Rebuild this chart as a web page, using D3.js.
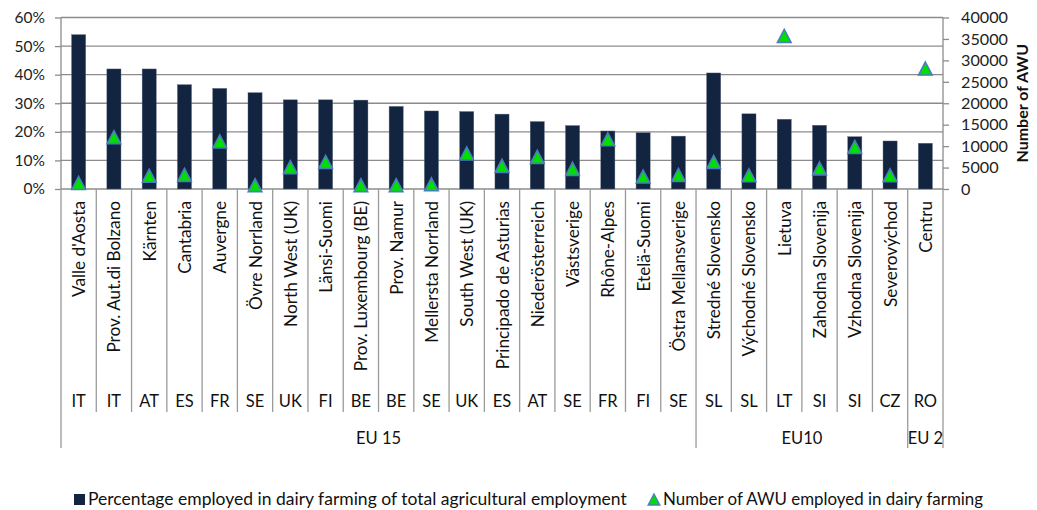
<!DOCTYPE html>
<html><head><meta charset="utf-8">
<script src="https://cdn.jsdelivr.net/npm/d3@7"></script>
<style>
html,body{margin:0;padding:0;background:#fff;}
svg{display:block;font-family:Lato,"Open Sans",sans-serif;}
</style></head>
<body><svg id="c" width="1037" height="510"></svg>
<script>
const regions = ["Valle d'Aosta","Prov. Aut.di Bolzano","Kärnten","Cantabria","Auvergne","Övre Norrland","North West (UK)","Länsi-Suomi","Prov. Luxembourg (BE)","Prov. Namur","Mellersta Norrland","South West (UK)","Principado de Asturias","Niederösterreich","Västsverige","Rhône-Alpes","Etelä-Suomi","Östra Mellansverige","Stredné Slovensko","Východné Slovensko","Lietuva","Zahodna Slovenija","Vzhodna Slovenija","Severovýchod","Centru"];
const countries = ["IT","IT","AT","ES","FR","SE","UK","FI","BE","BE","SE","UK","ES","AT","SE","FR","FI","SE","SL","SL","LT","SI","SI","CZ","RO"];
const groups = ["EU 15","EU10","EU 2"];
const groupSizes = [18,6,1];
const pctValues = [0.54,0.42,0.42,0.365,0.352,0.337,0.312,0.312,0.311,0.289,0.273,0.271,0.262,0.236,0.222,0.203,0.197,0.185,0.406,0.263,0.244,0.223,0.183,0.168,0.160];
const awuValues = [1400,12100,3100,3300,11100,900,5100,6300,900,900,1100,8300,5400,7500,4700,11600,2900,3300,6300,3200,35700,4800,9800,3200,28100];
const pctTicks = [0,0.1,0.2,0.3,0.4,0.5,0.6];
const awuTicks = [0,5000,10000,15000,20000,25000,30000,35000,40000];
const legendLabels = ["Percentage employed in dairy farming of total agricultural employment","Number of AWU employed in dairy farming"];

const barColor = "#12243f", gridColor = "#8c8c8c", sepColor = "#9a9a9a";
const L = 61, R = 943, T = 17.5, B = 189;
const svg = d3.select("#c");
const x = d3.scaleBand().domain(d3.range(regions.length)).range([L,R]).padding(0);
const y = d3.scaleLinear().domain([0,0.6]).range([B,T]);
const y2 = d3.scaleLinear().domain([0,40000]).range([B,T]);
const bw = x.bandwidth();

// gridlines
svg.append("g").selectAll("line").data(pctTicks).join("line")
  .attr("x1",L).attr("x2",R).attr("y1",d=>y(d)).attr("y2",d=>y(d))
  .attr("stroke",gridColor).attr("stroke-width",1.3);

// left axis
const la = svg.append("g").attr("transform",`translate(${L},0)`)
  .call(d3.axisLeft(y).tickValues(pctTicks).tickFormat(d3.format(".0%")).tickSize(6).tickPadding(10));
la.select(".domain").remove();
la.selectAll("line").attr("stroke",gridColor).attr("stroke-width",1.3);
la.selectAll("text").attr("font-size",15.5).attr("fill","#222").attr("font-family","Lato");

// right axis
const ra = svg.append("g").attr("transform",`translate(${R},0)`)
  .call(d3.axisRight(y2).tickValues(awuTicks).tickFormat(d3.format("d")).tickSize(6).tickPadding(12));
ra.select(".domain").remove();
ra.selectAll("line").attr("stroke",gridColor).attr("stroke-width",1.3);
ra.selectAll("text").attr("font-size",16.2).attr("fill","#222").attr("font-family","Lato");

svg.append("text").attr("transform",`translate(1028,${(T+B)/2}) rotate(-90)`)
  .attr("text-anchor","middle").attr("font-size",16).attr("font-weight","bold").attr("fill","#111")
  .text("Number of AWU");

// bars
svg.append("g").selectAll("rect").data(pctValues).join("rect")
  .attr("x",(d,i)=>x(i)+bw*0.3).attr("width",bw*0.4)
  .attr("y",d=>y(d)).attr("height",d=>B-y(d))
  .attr("fill",barColor).attr("stroke","#5a6a80").attr("stroke-width",0.4);

// category separators
const catLineBottom = 412, grpLineBottom = 448;
const groupStarts = [0];
groupSizes.forEach((s,i)=>groupStarts.push(groupStarts[i]+s));
svg.append("g").selectAll("line").data(d3.range(regions.length+1)).join("line")
  .attr("x1",i=>i<regions.length?x(i):R).attr("x2",i=>i<regions.length?x(i):R)
  .attr("y1",B).attr("y2",i=>groupStarts.includes(i)?grpLineBottom:catLineBottom)
  .attr("stroke",sepColor).attr("stroke-width",1.3);
// vertical axis lines
svg.append("line").attr("x1",L).attr("x2",L).attr("y1",T).attr("y2",B).attr("stroke",gridColor).attr("stroke-width",1.3);
svg.append("line").attr("x1",R).attr("x2",R).attr("y1",T).attr("y2",B).attr("stroke",gridColor).attr("stroke-width",1.3);

// triangles
const tri = "M0,-6.5L6.8,6.5L-6.8,6.5Z";
svg.append("g").selectAll("path").data(awuValues).join("path")
  .attr("d",tri)
  .attr("transform",(d,i)=>`translate(${x(i)+bw/2},${y2(d)})`)
  .attr("fill","#00e000").attr("stroke","#4a7ebb").attr("stroke-width",1.6);

// category labels
svg.append("g").selectAll("text").data(regions).join("text")
  .attr("transform",(d,i)=>`translate(${x(i)+bw/2+6.5},201) rotate(-90)`)
  .attr("text-anchor","end").attr("font-size",17.2).attr("fill","#111").text(d=>d);
svg.append("g").selectAll("text").data(countries).join("text")
  .attr("x",(d,i)=>x(i)+bw/2).attr("y",406.5)
  .attr("text-anchor","middle").attr("font-size",16.5).attr("fill","#111").text(d=>d);
svg.append("g").selectAll("text").data(groups).join("text")
  .attr("x",(d,i)=>(x(groupStarts[i]) + (groupStarts[i+1]<regions.length?x(groupStarts[i+1]):R))/2)
  .attr("y",444).attr("text-anchor","middle").attr("font-size",16.5).attr("fill","#111").text(d=>d);

// legend
const lg = svg.append("g").attr("fill","#111");
lg.append("rect").attr("x",74).attr("y",494).attr("width",11).attr("height",11).attr("fill",barColor);
lg.append("text").attr("x",88).attr("y",505).attr("font-size",17.5).text(legendLabels[0]);
lg.append("path").attr("d","M0,-5.5L5.8,5.5L-5.8,5.5Z").attr("transform","translate(654,499.5)")
  .attr("fill","#00e000").attr("stroke","#4a7ebb").attr("stroke-width",1.4);
lg.append("text").attr("x",663).attr("y",505).attr("font-size",16.9).text(legendLabels[1]);
</script></body></html>
